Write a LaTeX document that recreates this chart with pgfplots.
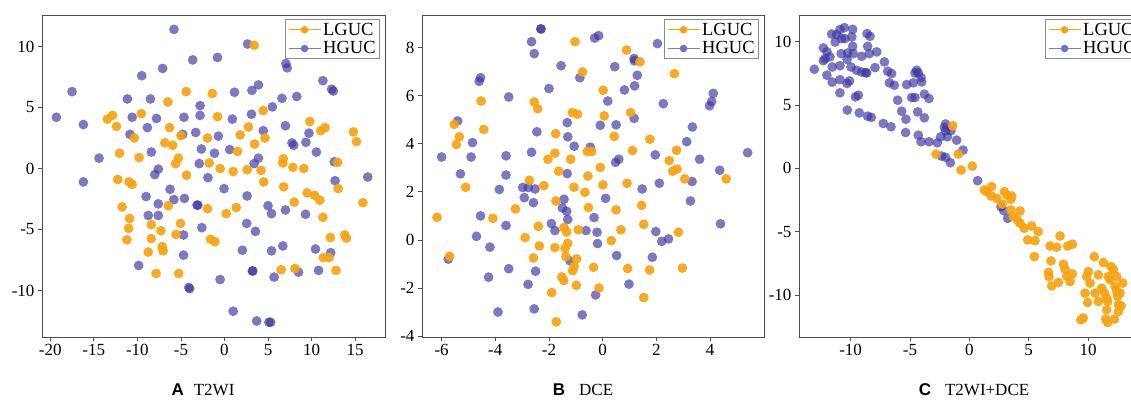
\documentclass[border=0pt]{standalone}
\usepackage{fontspec}
\setmainfont{Liberation Serif}
\setsansfont{Liberation Sans}
\usepackage{pgfplots}
\pgfplotsset{compat=1.18}
\definecolor{LG}{RGB}{245,163,20}
\definecolor{HG}{RGB}{58,52,160}
\pgfplotsset{
  tsne/.style={
    scale only axis, height=322pt,
    tick pos=left, tick align=outside, major tick length=4pt,
    axis line style={draw=black!70, line width=0.9pt},
    tick style={draw=black!70, line width=0.8pt},
    ticklabel style={font=\fontsize{17}{20}\selectfont},
    /pgf/number format/assume math mode=true,
    legend cell align=left,
    legend style={at={(1,1)}, anchor=north east, xshift=-5pt, yshift=-4pt,
      draw=black!45, line width=0.8pt, fill=white, font=\fontsize{18.5}{20}\selectfont,
      inner xsep=2pt, inner ysep=1.5pt, row sep=1pt},
    legend image code/.code={\draw[mark repeat=2,mark phase=2,#1] plot coordinates {(0pt,0pt) (16pt,0pt) (32pt,0pt)};},
  },
  hg/.style={only marks, mark=*, mark size=4.9pt, color=HG, mark options={draw opacity=0, fill=HG, fill opacity=0.66}},
  lg/.style={only marks, mark=*, mark size=4.9pt, color=LG, mark options={draw opacity=0, fill=LG, fill opacity=0.92}},
  hgleg/.style={draw=HG!65, line width=1.3pt, mark=*, mark size=3.8pt, mark options={draw opacity=0, fill=HG!70}},
  lgleg/.style={draw=LG, line width=1.3pt, mark=*, mark size=3.8pt, mark options={draw opacity=0, fill=LG}},
}
\begin{document}
\begin{tikzpicture}
% ---------- A ----------
\begin{axis}[tsne, at={(42pt,62pt)}, anchor=south west, width=343pt,
  xmin=-20.95, xmax=18.43, ymin=-13.81, ymax=12.58,
  xtick={-20,-15,...,15}, ytick={-10,-5,...,10}]
\addlegendimage{lgleg}\addlegendentry{LGUC}
\addlegendimage{hgleg}\addlegendentry{HGUC}
\addplot[hg, forget plot] coordinates {(-5.8,11.4)(2.65,10.2)(-3.65,8.9)(-0.8,9.1)(-7.1,8.2)(-9.5,7.6)(7.05,8.6)(7.2,8.25)(-17.5,6.3)(11.3,7.2)(12.3,6.5)(12.5,6.35)(-19.3,4.2)(-16.2,-1.1)(-16.2,3.6)(-14.4,0.85)(-11.15,5.7)(-10.6,4.2)(-10.85,2.8)(-8.5,5.7)(-8.85,3.35)(-7.8,4.1)(-8.4,1.35)(-7.6,-0.05)(-8.0,-0.5)(-6.25,-1.7)(-5.8,-2.55)(-4.6,-2.45)(-9.0,-2.3)(-7.6,-2.9)(-8.75,-3.85)(-7.6,-3.85)(-9.85,-7.95)(-4.7,-5.45)(-4.7,-7.1)(-4.1,-9.75)(-4.0,-9.85)(-4.65,4.2)(-4.8,2.8)(-3.3,2.95)(-2.8,5.15)(-2.8,4.35)(-2.65,1.6)(-2.9,0.4)(-1.9,-0.75)(-1.15,1.25)(-0.7,2.65)(-3.15,-3.0)(-3.05,-3.0)(-2.6,-4.85)(-0.05,-1.65)(-0.5,-9.1)(1.0,-11.7)(0.6,1.55)(0.9,4.05)(1.15,6.25)(2.6,-2.25)(2.55,-4.5)(2.05,-6.7)(3.25,-8.4)(3.2,-8.4)(3.55,-5.15)(3.7,-12.5)(5.1,-12.6)(5.3,-12.6)(3.15,6.4)(3.9,6.85)(3.1,4.45)(3.9,0.85)(3.4,0.4)(4.45,3.1)(5.5,5.05)(6.6,5.75)(8.3,5.9)(7.0,3.5)(7.75,2.1)(7.95,1.9)(5.0,-3.05)(5.4,-3.7)(7.0,-3.4)(5.4,-6.75)(6.7,-6.35)(5.7,-8.9)(8.5,-8.5)(9.35,2.15)(9.7,2.9)(10.55,1.35)(9.3,-3.75)(10.45,-6.6)(10.8,-8.35)(12.2,-6.9)(12.6,0.55)(12.7,-1.0)(16.45,-0.7)};
\addplot[lg, forget plot] coordinates {(3.4,10.1)(-4.4,6.3)(-6.5,5.45)(-1.4,6.15)(-13.45,4.05)(-12.85,4.35)(-12.4,3.45)(-9.55,4.5)(-10.35,2.5)(-12.05,1.25)(-9.8,0.9)(-12.25,-0.9)(-10.95,-1.1)(-10.6,-1.3)(-11.75,-3.15)(-10.9,-4.1)(-11.0,-4.9)(-11.2,-5.85)(-8.4,-4.6)(-8.4,-5.75)(-8.75,-6.85)(-7.3,-5.1)(-7.15,-6.4)(-7.05,-6.75)(-7.85,-8.6)(-6.45,-3.05)(-6.3,3.35)(-6.85,2.1)(-5.95,1.9)(-5.3,0.85)(-5.6,0.4)(-5.0,2.7)(-4.35,-0.55)(-5.05,-4.5)(-5.55,-5.4)(-5.25,-8.6)(-1.95,2.5)(-1.75,0.45)(-0.8,4.25)(-0.5,0.0)(-1.95,-3.3)(0.2,-3.7)(-1.6,-5.8)(-1.1,-6.0)(1.0,-0.25)(1.5,1.4)(1.8,2.75)(1.35,-3.2)(2.75,3.4)(2.6,-0.1)(3.45,2.0)(4.45,4.75)(4.65,2.5)(4.2,-0.15)(4.5,-1.1)(6.75,0.8)(6.7,0.45)(6.8,-1.5)(6.5,-8.3)(8.1,-8.2)(8.0,-2.75)(7.85,0.1)(9.1,0.0)(9.8,3.85)(9.5,-2.0)(10.35,-2.2)(10.95,-2.6)(11.3,-4.0)(11.05,3.1)(11.55,3.35)(11.35,-7.3)(12.0,-7.3)(12.15,-5.65)(12.8,-8.35)(13.0,0.5)(13.05,-1.65)(13.8,-5.45)(14.0,-5.7)(14.8,3.0)(15.15,2.2)(15.9,-2.8)};
\end{axis}
% ---------- B ----------
\begin{axis}[tsne, at={(422pt,62pt)}, anchor=south west, width=342pt,
  xmin=-6.73, xmax=6.01, ymin=-4.04, ymax=9.36,
  xtick={-6,-4,...,4}, ytick={-4,-2,...,8}]
\addlegendimage{lgleg}\addlegendentry{LGUC}
\addlegendimage{hgleg}\addlegendentry{HGUC}
\addplot[hg, forget plot] coordinates {(-2.3,8.78)(-2.3,8.78)(-2.65,8.25)(-2.55,7.75)(-1.55,7.25)(-0.3,8.4)(-0.15,8.5)(-0.85,6.75)(-2.0,6.3)(-4.55,6.75)(-4.6,6.6)(-3.5,5.95)(-5.4,4.95)(-6.0,3.45)(-5.3,2.75)(-4.85,4.05)(-4.9,3.45)(-3.6,3.5)(-3.6,2.7)(-3.85,2.1)(-4.55,1.0)(-4.7,0.15)(-4.2,-0.3)(-3.6,0.6)(-4.25,-1.55)(-3.5,-1.2)(-3.9,-3.0)(-5.75,-0.8)(-2.65,3.65)(-2.45,4.5)(-2.98,2.18)(-2.77,2.18)(-2.52,2.12)(-2.92,1.76)(-2.58,1.55)(-2.78,-1.85)(-2.5,-1.3)(-2.55,-2.87)(-1.32,4.88)(-1.3,4.29)(-1.32,2.76)(-1.06,3.9)(-1.44,1.69)(-1.5,1.33)(-1.34,1.19)(-1.3,0.85)(-1.91,0.68)(-1.78,0.39)(-1.22,-0.87)(-0.62,0.39)(-0.32,0.93)(-0.21,0.32)(-0.19,-0.15)(-0.46,3.86)(-0.76,-3.12)(-0.26,-2.29)(-0.09,4.77)(0.19,5.78)(0.45,7.21)(0.5,4.79)(0.48,3.23)(0.6,3.36)(0.11,1.73)(0.52,-0.65)(0.81,6.24)(1.17,7.55)(1.18,7.45)(1.19,6.41)(1.29,6.85)(1.17,5.06)(0.98,-1.84)(1.47,2.12)(1.85,-0.72)(1.96,3.54)(1.98,0.35)(2.04,8.17)(2.11,2.36)(2.2,-0.06)(2.45,0.04)(2.26,5.67)(3.13,4.09)(3.34,4.7)(3.33,2.43)(3.27,1.62)(3.61,3.36)(3.98,5.58)(4.06,5.76)(4.12,6.1)(4.36,2.9)(4.39,0.67)(5.4,3.63)};
\addplot[lg, forget plot] coordinates {(-1.03,8.25)(0.89,7.9)(1.39,7.41)(2.67,6.92)(-0.75,6.99)(0.02,6.23)(-4.53,5.78)(-2.55,5.74)(-2.42,5.46)(-5.53,4.81)(-5.34,4.29)(-5.45,3.97)(-4.43,4.6)(-1.13,5.3)(-0.94,5.23)(0.06,5.16)(1.04,5.3)(-1.75,4.42)(0.43,4.31)(1.76,4.19)(-1.78,3.61)(-2.04,3.36)(-1.19,3.36)(-0.57,3.68)(-0.41,3.68)(1.11,3.72)(2.75,3.73)(2.48,3.3)(2.61,2.86)(2.77,2.95)(3.06,2.54)(4.6,2.54)(-0.09,3.02)(-1.64,2.86)(-0.55,2.66)(-2.73,2.48)(-2.19,2.26)(-1.07,2.19)(0.01,2.29)(0.91,2.36)(-0.66,1.98)(-5.1,2.19)(-3.25,1.29)(-1.74,1.62)(-0.53,1.35)(0.5,1.25)(1.45,1.44)(-6.17,0.94)(-4.09,0.9)(-2.4,0.57)(-1.44,0.51)(-1.34,0.33)(-0.91,0.42)(0.68,0.42)(1.53,0.65)(2.82,0.32)(-2.89,0.1)(-2.36,-0.25)(-1.78,-0.32)(-1.4,-0.35)(-1.3,-0.14)(0.32,-0.03)(-5.7,-0.68)(-2.58,-0.75)(-1.37,-0.69)(-0.97,-0.79)(-1.06,-1.11)(-1.12,-1.28)(-0.34,-1.14)(0.93,-1.19)(1.75,-1.25)(2.97,-1.17)(-1.52,-1.54)(-1.45,-1.69)(-0.98,-1.89)(-0.14,-2.0)(-1.9,-2.19)(1.53,-2.4)(-1.73,-3.41)};
\end{axis}
% ---------- C ----------
\begin{axis}[tsne, at={(799pt,62pt)}, anchor=south west, width=346pt,
  xmin=-14.35, xmax=14.8, ymin=-13.3, ymax=12.1,
  xtick={-10,-5,...,10}, ytick={-10,-5,...,10}]
\addlegendimage{lgleg}\addlegendentry{LGUC}
\addlegendimage{hgleg}\addlegendentry{HGUC}
\addplot[hg, forget plot] coordinates {(-13.06,7.82)(-12.3,9.5)(-12.16,8.66)(-12.3,8.5)(-12.0,9.2)(-12.0,7.35)(-11.6,10.6)(-11.74,8.8)(-11.55,8.0)(-11.55,6.8)(-11.3,9.97)(-11.18,10.55)(-10.9,10.95)(-10.76,10.24)(-10.8,9.05)(-10.9,8.1)(-10.9,7.0)(-10.9,5.96)(-10.53,11.1)(-10.48,10.24)(-10.25,9.1)(-10.3,8.6)(-10.3,6.7)(-10.1,6.9)(-10.28,4.6)(-9.9,10.37)(-9.83,10.97)(-9.83,9.63)(-9.97,8.0)(-9.78,9.05)(-9.6,5.64)(-9.5,7.74)(-9.35,5.77)(-9.27,4.38)(-9.07,7.6)(-8.74,7.56)(-9.07,8.84)(-8.62,10.63)(-8.37,10.42)(-8.57,9.63)(-8.43,9.05)(-8.65,7.53)(-8.57,4.12)(-8.26,4.02)(-7.8,9.19)(-7.95,7.95)(-7.16,8.4)(-6.88,7.66)(-6.55,7.48)(-6.74,6.75)(-6.32,6.56)(-6.04,5.38)(-7.25,3.54)(-6.6,3.28)(-5.7,4.51)(-5.34,3.88)(-5.37,2.83)(-5.28,6.61)(-4.72,6.75)(-4.58,7.53)(-4.44,7.74)(-4.3,7.53)(-4.07,7.17)(-4.02,6.82)(-4.86,5.59)(-4.58,5.59)(-4.35,4.46)(-4.3,2.62)(-4.07,2.1)(-3.79,5.85)(-3.79,3.99)(-3.4,5.51)(-3.4,2.1)(-2.7,2.02)(-2.42,2.49)(-2.1,3.23)(-2.0,3.5)(-2.0,2.97)(-1.85,2.49)(-1.55,2.97)(-1.07,2.23)(-0.53,1.44)(-2.33,0.97)(-2.0,0.87)(-1.6,0.45)(0.7,-0.97)(2.67,-3.02)(2.9,-3.33)(3.23,-3.94)};
\addplot[lg, forget plot] coordinates {(-1.4,3.36)(-2.81,1.13)(-0.93,1.13)(-0.7,-0.13)(0.25,0.18)(1.26,-1.7)(1.46,-1.84)(1.88,-1.44)(1.83,-2.18)(2.3,-2.36)(2.95,-1.84)(3.15,-2.1)(3.5,-2.44)(3.57,-2.18)(2.78,-2.81)(3.5,-3.28)(3.7,-3.8)(4.27,-3.36)(4.07,-4.07)(4.27,-4.33)(4.63,-4.72)(5.25,-4.54)(5.8,-4.99)(4.92,-5.64)(5.53,-5.7)(5.48,-6.96)(6.8,-6.12)(7.36,-6.22)(7.64,-5.33)(6.88,-7.3)(6.66,-8.2)(6.71,-8.53)(6.94,-9.27)(7.5,-9.0)(7.92,-7.56)(8.06,-7.95)(8.2,-8.48)(8.48,-8.92)(8.29,-6.12)(8.68,-5.98)(8.68,-8.32)(9.6,-11.8)(9.4,-11.94)(9.75,-9.84)(9.97,-10.58)(9.89,-8.53)(10.03,-8.14)(10.17,-9.05)(10.53,-6.96)(10.87,-10.5)(10.87,-8.4)(11.15,-9.45)(11.29,-7.43)(11.38,-9.84)(11.49,-11.89)(11.66,-12.15)(11.57,-10.24)(11.66,-10.5)(11.57,-11.15)(11.71,-8.53)(11.94,-7.74)(12.13,-8.0)(12.22,-11.89)(12.28,-9.32)(12.42,-9.71)(12.42,-8.53)(12.5,-10.1)(12.7,-9.84)(12.56,-10.76)(12.78,-10.84)(12.56,-11.29)(12.92,-9.05)(11.85,-8.79)(10.59,-9.84)};
\end{axis}
% ---------- captions ----------
\node[anchor=base, font=\fontsize{17}{20}\selectfont] at (203pt,4pt) {{\sffamily\bfseries A}\hspace{10pt}T2WI};
\node[anchor=base, font=\fontsize{17}{20}\selectfont] at (583pt,4pt) {{\sffamily\bfseries B}\hspace{14pt}DCE};
\node[anchor=base, font=\fontsize{17}{20}\selectfont] at (974pt,4pt) {{\sffamily\bfseries C}\hspace{14pt}T2WI+DCE};
\pgfresetboundingbox
\path[use as bounding box] (0pt,0pt) rectangle (1131pt,399pt);
\end{tikzpicture}
\end{document}
